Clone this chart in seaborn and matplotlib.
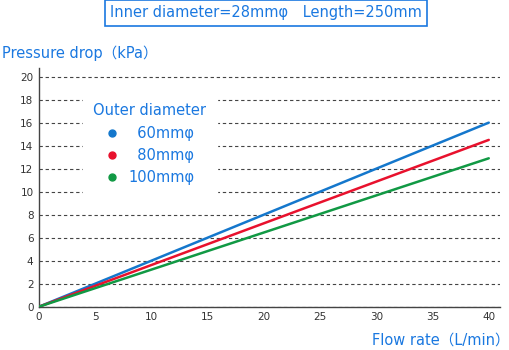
import matplotlib
matplotlib.use("Agg")
import matplotlib.pyplot as plt
from matplotlib.lines import Line2D
import seaborn as sns
import pandas as pd

flow = [0, 40]
drop_60 = [0, 16.0]
drop_80 = [0, 14.5]
drop_100 = [0, 12.9]
series_names = ["  60mmφ", "  80mmφ", "100mmφ"]
x_ticks = [0, 5, 10, 15, 20, 25, 30, 35, 40]
y_ticks = [0, 2, 4, 6, 8, 10, 12, 14, 16, 18, 20]

colors = ["#1477cc", "#e8112d", "#119944"]
text_blue = "#1a78e0"

df = pd.concat([
    pd.DataFrame({"flow": flow, "drop": drop_60, "series": series_names[0]}),
    pd.DataFrame({"flow": flow, "drop": drop_80, "series": series_names[1]}),
    pd.DataFrame({"flow": flow, "drop": drop_100, "series": series_names[2]}),
])

sns.set_theme(style="white")
plt.rcParams["font.family"] = ["DejaVu Sans", "Noto Sans CJK JP"]

fig = plt.figure(figsize=(5.1, 3.5), dpi=100)
ax = fig.add_axes([39/510, 1-306.7/350, 461/510, (306.7-68)/350])

sns.lineplot(data=df, x="flow", y="drop", hue="series", palette=colors,
             linewidth=1.8, legend=False, ax=ax, zorder=3)

ax.set_xlim(0, 41)
ax.set_ylim(0, 20.75)
ax.set_xticks(x_ticks)
ax.set_yticks(y_ticks)
ax.tick_params(axis="both", labelsize=7.5, colors="#333333", length=0, pad=4)
for lab in ax.get_xticklabels() + ax.get_yticklabels():
    lab.set_color("#333333")
ax.yaxis.grid(True, linestyle=(0, (3, 2.5)), color="#444444", linewidth=0.8)
ax.xaxis.grid(False)
for s in ["top", "right"]:
    ax.spines[s].set_visible(False)
for s in ["left", "bottom"]:
    ax.spines[s].set_color("#444444")
    ax.spines[s].set_linewidth(1.0)
ax.set_xlabel("")
ax.set_ylabel("")

handles = [Line2D([0], [0], marker="o", linestyle="none", markersize=5,
                  markerfacecolor=c, markeredgecolor=c) for c in colors]
leg = ax.legend(handles, series_names, title="Outer diameter",
                loc="upper left", bbox_to_anchor=(0.08, 0.925),
                frameon=True, prop={"size": 10.5},
                title_fontproperties={"size": 10.5},
                handletextpad=0.6, labelspacing=0.5, borderpad=0.7,
                handlelength=1.0)
leg.get_frame().set_facecolor("white")
leg.get_frame().set_edgecolor("white")
leg.get_frame().set_alpha(1.0)
leg.get_title().set_color(text_blue)
for t in leg.get_texts():
    t.set_color(text_blue)
leg.set_zorder(5)

fig.text(266/510, 1-13/350, "Inner diameter=28mmφ　Length=250mm",
         ha="center", va="center", fontsize=10.5, color=text_blue,
         bbox=dict(boxstyle="square,pad=0.35", facecolor="white",
                   edgecolor=text_blue, linewidth=1.2))
fig.text(2/510, 1-53/350, "Pressure drop（kPa）", ha="left", va="center",
         fontsize=10.5, color=text_blue)
fig.text(510/510, 1-340/350, "Flow rate（L/min）", ha="right", va="center",
         fontsize=10.5, color=text_blue)

fig.savefig("out.png", dpi=100, facecolor="white")
